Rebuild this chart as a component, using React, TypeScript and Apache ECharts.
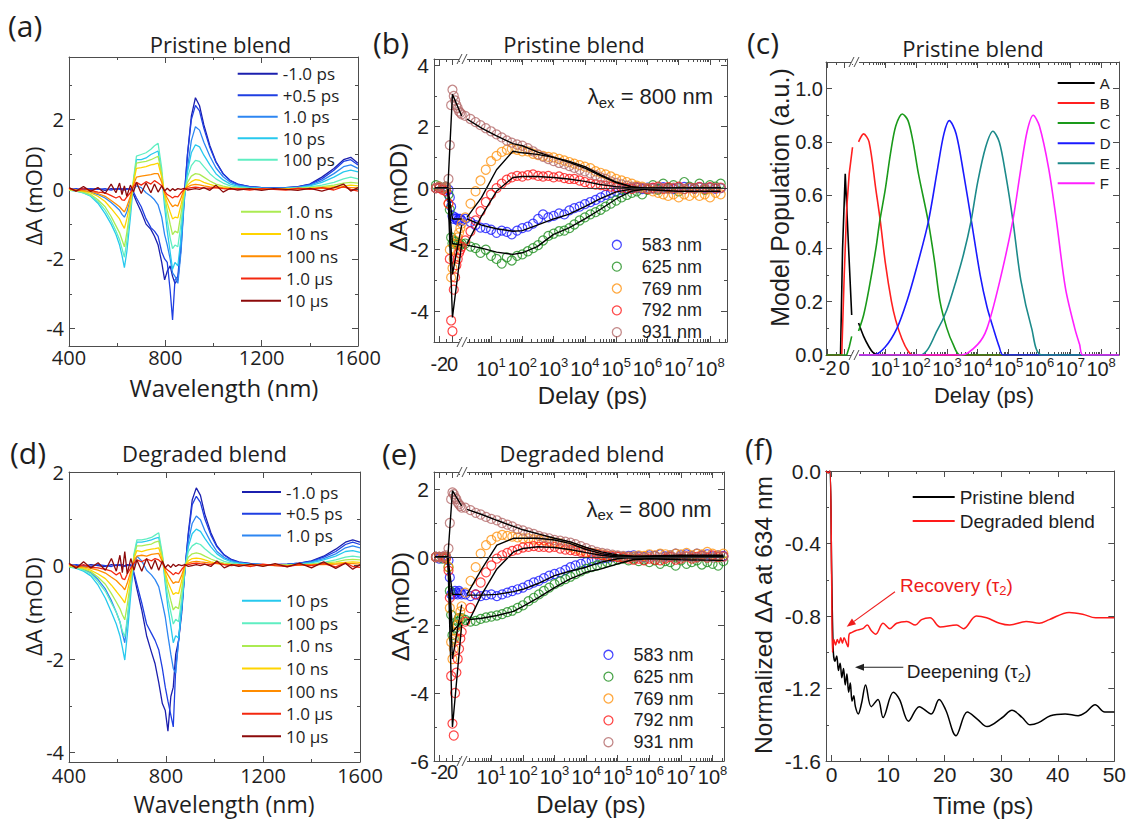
import { useEffect, useRef } from 'react';
import * as echarts from 'echarts';

const MY = "'Open Sans', 'Noto Sans', sans-serif";
const AR = "'Liberation Sans', Arial, sans-serif";
const AX = '#4d4d4d';
const TXT = '#1e1e1e';

// ---------------- (a)/(d) transient spectra ----------------
const WL = [400, 430, 460, 490, 520, 550, 575, 595, 610, 620,
  630, 640, 655, 668, 680, 700, 720, 740, 755, 770,
  785, 797, 808, 820, 830, 840, 852, 865, 878, 892,
  908, 925, 942, 960, 985, 1010, 1040, 1070, 1100, 1150,
  1200, 1250, 1300, 1350, 1400, 1450, 1500, 1540, 1570, 1600];
const SPEC_LABELS = ['-1.0 ps', '+0.5 ps', '1.0 ps', '10 ps', '100 ps', '1.0 ns', '10 ns', '100 ns', '1.0 µs', '10 µs'];
const WL_TICKS = [400, 800, 1200, 1600];
const WL_MINOR = [600, 1000, 1400];

const A_M1 = [0.02, -0.02, 0.03, 0.0, 0.02, -0.03, 0.02, 0.0, 0.03, -0.02,
  0.0, 0.02, 0.0, -0.15, -0.35, -0.65, -1.0, -1.15, -1.35, -1.6,
  -2.1, -2.6, -2.35, -2.2, -2.5, -2.7, -2.6, -1.7, -0.3, 1.0,
  2.1, 2.63, 2.4, 1.85, 1.25, 0.8, 0.45, 0.25, 0.15, 0.08,
  0.05, 0.04, 0.05, 0.08, 0.15, 0.35, 0.6, 0.85, 0.92, 0.75];
const A_P05 = [0.0, 0.02, -0.02, 0.02, 0.0, 0.02, -0.02, 0.02, 0.0, 0.02,
  -0.02, 0.0, 0.02, -0.08, -0.25, -0.5, -0.85, -1.1, -1.2, -1.35,
  -1.8, -2.0, -2.1, -2.9, -3.75, -2.6, -2.5, -1.5, -0.2, 1.0,
  2.0, 2.41, 2.25, 1.75, 1.2, 0.78, 0.44, 0.25, 0.15, 0.08,
  0.05, 0.04, 0.05, 0.07, 0.14, 0.3, 0.55, 0.8, 0.85, 0.7];
const A_1PS = [-0.02, -0.03, -0.05, -0.08, -0.15, -0.25, -0.38, -0.5, -0.6, -0.72,
  -0.8, -0.65, -0.3, 0.0, 0.1, 0.05, -0.1, -0.2, -0.3, -0.45,
  -0.8, -1.3, -1.6, -2.0, -2.4, -2.5, -2.7, -1.8, -0.4, 0.6,
  1.4, 1.8, 1.7, 1.35, 0.95, 0.62, 0.36, 0.2, 0.12, 0.06,
  0.04, 0.03, 0.04, 0.06, 0.12, 0.25, 0.45, 0.65, 0.7, 0.6];
const A_10PS = [-0.02, -0.05, -0.1, -0.2, -0.4, -0.7, -1.0, -1.3, -1.6, -1.9,
  -2.25, -1.8, -0.8, 0.2, 0.85, 0.85, 0.9, 1.0, 1.05, 1.1,
  0.4, -0.5, -1.2, -1.8, -2.3, -2.1, -2.2, -1.4, -0.3, 0.5,
  1.05, 1.28, 1.22, 0.98, 0.7, 0.45, 0.27, 0.15, 0.09, 0.05,
  0.03, 0.02, 0.03, 0.05, 0.1, 0.2, 0.35, 0.5, 0.55, 0.5];
const A_100PS = [-0.02, -0.05, -0.1, -0.18, -0.35, -0.6, -0.9, -1.2, -1.45, -1.7,
  -1.95, -1.5, -0.6, 0.3, 0.95, 1.0, 1.05, 1.15, 1.25, 1.32,
  0.6, -0.3, -0.9, -1.4, -1.7, -1.6, -1.65, -1.0, -0.2, 0.35,
  0.68, 0.83, 0.8, 0.65, 0.45, 0.3, 0.18, 0.1, 0.06, 0.03,
  0.02, 0.02, 0.02, 0.04, 0.07, 0.12, 0.2, 0.3, 0.35, 0.3];
const A_1NS = [-0.02, -0.04, -0.08, -0.15, -0.3, -0.5, -0.78, -1.05, -1.25, -1.45,
  -1.65, -1.25, -0.5, 0.25, 0.75, 0.78, 0.8, 0.85, 0.9, 0.95,
  0.45, -0.2, -0.6, -1.0, -1.3, -1.2, -1.25, -0.7, -0.1, 0.2,
  0.38, 0.45, 0.43, 0.35, 0.24, 0.15, 0.09, 0.05, 0.03, 0.02,
  0.01, 0.02, 0.01, 0.03, 0.05, 0.08, 0.12, 0.18, 0.2, 0.18];
const A_10NS = [0.0, -0.03, -0.05, -0.1, -0.2, -0.35, -0.55, -0.72, -0.85, -1.0,
  -1.12, -0.85, -0.35, 0.2, 0.6, 0.62, 0.65, 0.7, 0.72, 0.75,
  0.35, -0.15, -0.4, -0.65, -0.85, -0.8, -0.82, -0.45, -0.05, 0.12,
  0.22, 0.28, 0.26, 0.2, 0.14, 0.09, 0.05, 0.03, 0.02, 0.01,
  0.02, 0.0, 0.02, 0.01, 0.03, 0.05, 0.08, 0.1, 0.12, 0.1];
const A_100NS = [0.02, -0.02, -0.04, -0.06, -0.12, -0.2, -0.32, -0.42, -0.5, -0.58,
  -0.65, -0.5, -0.2, 0.12, 0.35, 0.38, 0.4, 0.42, 0.45, 0.45,
  0.2, -0.1, -0.25, -0.4, -0.5, -0.45, -0.48, -0.25, 0.0, 0.07,
  0.12, 0.14, 0.13, 0.1, 0.07, 0.05, 0.03, 0.02, 0.01, 0.02,
  0.0, 0.02, 0.0, 0.02, 0.01, 0.03, 0.04, 0.06, 0.05, 0.04];
const A_1US = [0.03, -0.05, 0.02, -0.03, -0.08, -0.1, -0.18, -0.25, -0.2, -0.3,
  -0.32, -0.22, -0.1, 0.08, 0.2, 0.12, 0.22, 0.15, 0.25, 0.18,
  0.1, -0.05, -0.15, -0.2, -0.25, -0.2, -0.22, -0.1, 0.0, 0.03,
  0.05, 0.06, 0.05, 0.04, 0.03, 0.05, 0.02, 0.0, 0.02, -0.02,
  0.02, 0.0, -0.02, 0.03, 0.0, 0.05, -0.02, 0.08, 0.0, -0.05];
const A_10US = [0.05, -0.05, 0.08, -0.06, 0.05, -0.12, 0.15, -0.1, 0.18, -0.15,
  0.1, -0.2, 0.12, -0.08, 0.2, -0.12, 0.18, -0.1, 0.15, -0.08,
  0.1, -0.05, 0.03, -0.05, 0.02, -0.03, 0.02, 0.0, 0.03, -0.02,
  0.0, 0.02, 0.0, 0.05, -0.03, 0.12, -0.08, 0.03, -0.02, 0.02,
  -0.03, 0.02, 0.0, -0.03, 0.03, -0.05, 0.05, 0.15, -0.05, 0.05];

const D_M1 = [0.02, 0.0, -0.02, 0.02, 0.0, -0.02, 0.02, 0.0, 0.02, -0.02,
  0.0, 0.02, 0.0, -0.2, -0.5, -0.95, -1.5, -1.85, -2.1, -2.5,
  -2.95, -3.1, -3.54, -2.8, -2.6, -1.9, -1.6, -1.0, -0.1, 0.7,
  1.4, 1.66, 1.5, 1.1, 0.7, 0.42, 0.23, 0.13, 0.08, 0.04,
  0.02, 0.02, 0.03, 0.05, 0.1, 0.2, 0.35, 0.5, 0.55, 0.5];
const D_P05 = [0.0, 0.02, 0.0, -0.02, 0.02, 0.0, -0.02, 0.02, 0.0, 0.02,
  -0.02, 0.0, 0.02, -0.15, -0.4, -0.8, -1.25, -1.45, -1.6, -1.8,
  -2.2, -2.6, -2.9, -3.2, -3.45, -2.2, -1.6, -0.9, -0.1, 0.65,
  1.3, 1.48, 1.35, 1.0, 0.65, 0.4, 0.22, 0.12, 0.07, 0.04,
  0.02, 0.02, 0.03, 0.05, 0.09, 0.18, 0.3, 0.45, 0.5, 0.45];
const D_1PS = [-0.02, -0.04, -0.08, -0.15, -0.3, -0.5, -0.75, -1.0, -1.2, -1.45,
  -1.65, -1.2, -0.45, 0.0, 0.2, 0.1, -0.1, -0.2, -0.3, -0.45,
  -0.8, -1.1, -1.5, -1.9, -2.2, -2.3, -1.6, -0.8, -0.05, 0.5,
  0.9, 1.06, 0.98, 0.75, 0.5, 0.3, 0.17, 0.1, 0.06, 0.03,
  0.02, 0.02, 0.02, 0.04, 0.08, 0.15, 0.25, 0.38, 0.42, 0.38];
const D_10PS = [-0.03, -0.06, -0.12, -0.22, -0.42, -0.7, -1.0, -1.25, -1.5, -1.75,
  -2.02, -1.5, -0.6, 0.2, 0.5, 0.5, 0.52, 0.55, 0.58, 0.6,
  0.2, -0.4, -0.9, -1.3, -1.65, -1.5, -1.55, -0.9, -0.1, 0.4,
  0.68, 0.78, 0.73, 0.58, 0.4, 0.25, 0.14, 0.08, 0.05, 0.03,
  0.02, 0.01, 0.02, 0.03, 0.06, 0.12, 0.2, 0.3, 0.32, 0.28];
const D_100PS = [-0.02, -0.05, -0.1, -0.18, -0.35, -0.55, -0.8, -1.0, -1.2, -1.4,
  -1.52, -1.15, -0.45, 0.25, 0.55, 0.55, 0.57, 0.6, 0.65, 0.7,
  0.25, -0.3, -0.7, -1.0, -1.25, -1.15, -1.2, -0.7, -0.05, 0.3,
  0.42, 0.48, 0.45, 0.36, 0.25, 0.16, 0.09, 0.05, 0.03, 0.02,
  0.01, 0.01, 0.02, 0.02, 0.04, 0.07, 0.12, 0.18, 0.2, 0.18];
const D_1NS = [-0.02, -0.04, -0.07, -0.13, -0.25, -0.4, -0.6, -0.78, -0.92, -1.05,
  -1.16, -0.85, -0.3, 0.2, 0.42, 0.42, 0.44, 0.46, 0.5, 0.52,
  0.18, -0.2, -0.5, -0.75, -0.95, -0.88, -0.92, -0.5, -0.02, 0.18,
  0.25, 0.27, 0.25, 0.2, 0.14, 0.09, 0.05, 0.03, 0.02, 0.01,
  0.01, 0.0, 0.01, 0.02, 0.03, 0.05, 0.08, 0.12, 0.13, 0.12];
const D_10NS = [0.0, -0.03, -0.05, -0.1, -0.18, -0.28, -0.42, -0.55, -0.65, -0.72,
  -0.8, -0.58, -0.2, 0.15, 0.32, 0.3, 0.33, 0.35, 0.36, 0.38,
  0.12, -0.15, -0.35, -0.5, -0.62, -0.58, -0.6, -0.32, 0.0, 0.1,
  0.15, 0.16, 0.15, 0.12, 0.08, 0.05, 0.03, 0.02, 0.01, 0.02,
  0.0, 0.01, 0.0, 0.02, 0.02, 0.03, 0.05, 0.07, 0.08, 0.07];
const D_100NS = [0.02, -0.02, -0.03, -0.06, -0.1, -0.16, -0.25, -0.32, -0.4, -0.45,
  -0.52, -0.38, -0.12, 0.1, 0.2, 0.22, 0.2, 0.24, 0.25, 0.26,
  0.08, -0.1, -0.2, -0.3, -0.38, -0.35, -0.36, -0.2, 0.0, 0.05,
  0.08, 0.09, 0.08, 0.07, 0.05, 0.04, 0.02, 0.02, 0.01, 0.02,
  0.0, 0.02, 0.0, 0.01, 0.02, 0.02, 0.03, 0.04, 0.04, 0.03];
const D_1US = [0.03, -0.04, 0.02, -0.04, -0.05, -0.08, -0.12, -0.2, -0.15, -0.28,
  -0.3, -0.18, -0.05, 0.05, 0.12, 0.08, 0.14, 0.1, 0.15, 0.12,
  0.05, -0.05, -0.1, -0.15, -0.2, -0.15, -0.18, -0.08, 0.0, 0.02,
  0.04, 0.05, 0.04, 0.03, 0.02, 0.06, 0.02, 0.0, 0.02, -0.02,
  0.03, 0.0, -0.02, 0.02, 0.0, 0.04, -0.03, 0.06, -0.02, -0.04];
const D_10US = [0.05, -0.06, 0.08, -0.05, 0.06, -0.1, 0.15, -0.12, 0.22, -0.15,
  0.3, -0.18, 0.15, -0.1, 0.12, -0.12, 0.15, -0.08, 0.12, -0.1,
  0.1, -0.05, 0.02, -0.04, 0.03, -0.02, 0.02, 0.0, 0.02, -0.02,
  0.0, 0.02, 0.0, 0.03, -0.02, 0.1, -0.05, 0.02, -0.02, 0.03,
  -0.02, 0.04, -0.03, 0.05, -0.05, 0.08, -0.06, 0.05, -0.08, 0.02];

const A_SPECTRA = [A_M1, A_P05, A_1PS, A_10PS, A_100PS, A_1NS, A_10NS, A_100NS, A_1US, A_10US];
const D_SPECTRA = [D_M1, D_P05, D_1PS, D_10PS, D_100PS, D_1NS, D_10NS, D_100NS, D_1US, D_10US];
const SPEC_COLORS = ['#1b1fae', '#1f3fe2', '#2d86f2', '#27c9ee', '#5feec2', '#abeb52', '#ffd400', '#ff8c00', '#f3280f', '#8c0a0a'];

// ---------------- (b)/(e) kinetics ----------------
const KIN_LABELS = ['583 nm', '625 nm', '769 nm', '792 nm', '931 nm'];
const KIN_COLORS = ['#1a1aff', '#1f8f1f', '#ff9412', '#ff1a1a', '#b46a6a'];
const LIN_TICKS = [-2, 0];
const LIN_MINOR = [-1, 1];
const LOG_MAJ = [1e1, 1e2, 1e3, 1e4, 1e5, 1e6, 1e7, 1e8];
const LIN_T = [-2.5, -2.0, -1.5, -1.0, -0.6, -0.4, -0.2, 0.0, 0.2, 0.4, 0.6, 0.8, 1.0, 1.2, 1.4];
const T_LOG = [1.5, 2.2, 3.2, 4.6, 6.8, 10, 15, 22, 32, 46,
  68, 100, 150, 220, 320, 460, 680, 1e3, 1.5e3, 2.2e3,
  3.2e3, 4.6e3, 6.8e3, 1e4, 1.5e4, 2.2e4, 3.2e4, 4.6e4, 6.8e4, 1e5,
  1.5e5, 2.2e5, 3.2e5, 4.6e5, 6.8e5, 1e6, 1.5e6, 2.2e6, 3.2e6, 4.6e6,
  6.8e6, 1e7, 1.5e7, 2.2e7, 3.2e7, 4.6e7, 6.8e7, 1e8, 1.5e8, 2.2e8];
const FITL_T = [-2.6, -0.7, 0.0, 1.4];
const FIT_T = [1.7, 5, 15, 50, 100, 300, 1000, 3000, 10000, 30000, 1e5, 3e5, 1e6, 1e7, 2.2e8];

const B583L = [0.0, 0.02, 0.0, 0.0, -0.05, -0.3, -0.6, -0.9, -1.0, -0.95, -1.0, -1.05, -1.0, -1.0, -1.05];
const B625L = [0.1, 0.05, 0.0, 0.05, -0.2, -0.7, -1.6, -1.8, -1.7, -1.75, -1.8, -1.85, -1.8, -1.85, -1.8];
const B769L = [0.0, 0.05, 0.0, 0.0, -0.5, -2.0, -2.9, -2.6, -2.3, -2.0, -1.8, -1.6, -1.45, -1.3, -1.15];
const B792L = [0.0, 0.0, -0.05, -0.1, -0.5, -2.3, -4.3, -4.65, -3.3, -2.9, -2.5, -2.3, -2.1, -2.0, -1.9];
const B931L = [0.0, 0.05, 0.0, 0.05, 0.3, 1.4, 2.7, 3.2, 3.0, 2.85, 2.7, 2.6, 2.5, 2.45, 2.4];
const B583 = [-1.0, -1.1, -1.2, -1.28, -1.3, -1.35, -1.45, -1.38, -1.42, -1.5,
  -1.38, -1.3, -1.25, -1.15, -1.0, -0.85, -0.95, -0.9, -0.82, -0.85,
  -0.72, -0.65, -0.6, -0.52, -0.45, -0.38, -0.3, -0.22, -0.15, -0.1,
  -0.05, -0.02, 0.0, 0.02, -0.03, 0.02, 0.0, -0.02, 0.03, 0.0,
  -0.03, 0.02, 0.04, 0.0, -0.02, 0.03, 0.0, 0.02, -0.02, 0.0];
const B625 = [-1.8, -1.9, -1.95, -2.1, -2.0, -2.2, -2.3, -2.45, -2.25, -2.35,
  -2.2, -2.15, -2.05, -1.95, -1.85, -1.7, -1.55, -1.48, -1.4, -1.38,
  -1.3, -1.18, -1.05, -0.95, -0.85, -0.78, -0.7, -0.6, -0.5, -0.4,
  -0.3, -0.22, -0.15, -0.1, -0.2, -0.05, 0.1, -0.05, 0.15, 0.0,
  0.1, -0.1, 0.2, 0.05, 0.0, 0.15, -0.05, 0.1, 0.05, 0.15];
const B769 = [-0.95, -0.5, -0.1, 0.25, 0.6, 0.88, 1.05, 1.18, 1.25, 1.28,
  1.25, 1.2, 1.2, 1.12, 1.08, 1.05, 1.02, 1.0, 0.95, 0.9,
  0.85, 0.8, 0.75, 0.7, 0.65, 0.55, 0.5, 0.45, 0.38, 0.3,
  0.25, 0.2, 0.15, 0.08, 0.05, 0.0, -0.1, -0.15, -0.2, -0.25,
  -0.2, -0.3, -0.2, -0.25, -0.15, -0.25, -0.2, -0.3, -0.15, -0.2];
const B792 = [-1.7, -1.4, -1.05, -0.75, -0.45, -0.2, 0.0, 0.15, 0.28, 0.35,
  0.4, 0.38, 0.42, 0.45, 0.4, 0.38, 0.4, 0.35, 0.38, 0.33,
  0.3, 0.3, 0.25, 0.2, 0.15, 0.12, 0.1, 0.08, 0.05, 0.03,
  0.02, 0.0, -0.02, 0.03, 0.0, -0.03, 0.02, 0.05, -0.02, 0.03,
  0.0, 0.05, -0.03, 0.02, 0.0, 0.04, -0.02, 0.03, 0.0, 0.02];
const B931 = [2.35, 2.25, 2.15, 2.05, 1.95, 1.85, 1.75, 1.65, 1.55, 1.48,
  1.42, 1.38, 1.3, 1.2, 1.1, 1.02, 0.95, 0.88, 0.82, 0.78,
  0.72, 0.66, 0.6, 0.55, 0.48, 0.42, 0.35, 0.3, 0.22, 0.17,
  0.12, 0.08, 0.05, 0.03, 0.01, 0.0, -0.02, 0.02, 0.0, -0.03,
  0.02, 0.0, -0.02, 0.01, 0.0, 0.02, -0.01, 0.0, 0.02, 0.0];
const B_FITL = [[0, 0, -1.0, -1.0], [0, 0, -1.8, -1.85], [0, 0, -2.8, -1.2], [0, 0, -4.2, -1.8], [0, 0, 3.05, 2.35]];
const B583F = [-1.0, -1.2, -1.32, -1.4, -1.38, -1.2, -1.0, -0.85, -0.6, -0.35, -0.12, -0.03, 0, 0, 0];
const B625F = [-1.85, -1.95, -2.08, -2.15, -2.1, -1.9, -1.5, -1.3, -1.0, -0.7, -0.35, -0.1, -0.02, 0, 0];
const B769F = [-0.95, -0.3, 0.6, 1.2, 1.15, 1.1, 1.0, 0.88, 0.7, 0.45, 0.2, 0.05, -0.05, -0.1, -0.1];
const B792F = [-1.8, -0.9, -0.1, 0.35, 0.38, 0.38, 0.35, 0.3, 0.22, 0.12, 0.05, 0.01, 0, 0, 0];
const B931F = [2.25, 1.95, 1.7, 1.45, 1.38, 1.18, 1.0, 0.85, 0.65, 0.42, 0.18, 0.05, 0, 0, 0];

const E583L = [0.0, -0.05, 0.0, 0.0, -0.1, -0.6, -1.1, -1.05, -1.1, -1.0, -1.05, -1.1, -1.0, -1.05, -1.1];
const E625L = [0.0, 0.0, -0.05, 0.0, -0.3, -1.0, -1.7, -2.3, -2.4, -2.1, -2.0, -1.9, -1.8, -1.85, -1.8];
const E769L = [0.0, 0.0, 0.0, 0.0, -0.3, -1.5, -2.5, -3.0, -2.7, -2.4, -2.2, -2.0, -1.8, -1.6, -1.45];
const E792L = [0.0, 0.0, 0.0, -0.05, -0.4, -1.2, -3.5, -4.9, -5.25, -4.0, -3.4, -3.0, -2.7, -2.4, -2.2];
const E931L = [0.0, 0.0, 0.0, 0.05, 0.25, 1.0, 1.7, 1.9, 1.85, 1.75, 1.7, 1.6, 1.55, 1.5, 1.45];
const E583 = [-1.1, -1.15, -1.1, -1.15, -1.12, -1.1, -1.15, -1.1, -1.05, -1.0,
  -0.95, -0.9, -0.82, -0.75, -0.7, -0.62, -0.55, -0.5, -0.45, -0.38,
  -0.3, -0.25, -0.2, -0.15, -0.1, -0.08, -0.05, -0.03, 0.0, 0.02,
  0.0, 0.03, 0.05, 0.02, 0.0, 0.05, 0.03, 0.08, 0.02, 0.05,
  0.1, 0.05, 0.08, 0.03, 0.1, 0.05, 0.08, 0.02, 0.05, 0.03];
const E625 = [-1.85, -1.9, -1.88, -1.82, -1.78, -1.75, -1.72, -1.68, -1.62, -1.58,
  -1.5, -1.42, -1.3, -1.2, -1.1, -1.0, -0.9, -0.8, -0.72, -0.65,
  -0.58, -0.5, -0.42, -0.35, -0.3, -0.25, -0.2, -0.15, -0.12, -0.08,
  -0.05, -0.1, -0.05, -0.12, -0.08, -0.15, -0.1, -0.2, -0.12, -0.15,
  -0.25, -0.1, -0.2, -0.15, -0.1, -0.22, -0.15, -0.2, -0.25, -0.12];
const E769 = [-1.05, -0.7, -0.3, 0.1, 0.35, 0.5, 0.6, 0.65, 0.62, 0.6,
  0.58, 0.55, 0.55, 0.52, 0.5, 0.5, 0.45, 0.42, 0.4, 0.35,
  0.3, 0.25, 0.2, 0.15, 0.12, 0.1, 0.08, 0.05, 0.03, 0.02,
  0.0, 0.0, 0.02, 0.05, 0.03, 0.08, 0.05, 0.1, 0.08, 0.05,
  0.1, 0.08, 0.12, 0.05, 0.1, 0.08, 0.15, 0.1, 0.05, 0.1];
const E792 = [-1.9, -1.5, -1.1, -0.75, -0.45, -0.25, -0.05, 0.05, 0.12, 0.18,
  0.22, 0.28, 0.3, 0.32, 0.3, 0.3, 0.28, 0.3, 0.25, 0.22,
  0.2, 0.18, 0.15, 0.12, 0.1, 0.08, 0.05, 0.03, 0.02, 0.0,
  -0.02, -0.05, -0.08, -0.05, -0.1, -0.05, -0.08, -0.1, -0.05, 0.0,
  -0.08, -0.05, 0.02, -0.05, 0.0, 0.03, -0.02, 0.05, 0.0, 0.02];
const E931 = [1.45, 1.38, 1.3, 1.25, 1.18, 1.12, 1.08, 1.0, 0.95, 0.9,
  0.82, 0.78, 0.72, 0.68, 0.62, 0.58, 0.55, 0.5, 0.48, 0.45,
  0.42, 0.38, 0.32, 0.26, 0.2, 0.15, 0.12, 0.1, 0.07, 0.05,
  0.03, 0.02, 0.0, 0.02, -0.02, 0.0, 0.03, -0.02, 0.0, 0.02,
  -0.03, 0.0, 0.02, 0.0, -0.02, 0.03, 0.0, -0.02, 0.02, 0.0];
const E_FITL = [[0, 0, -1.1, -1.1], [0, 0, -2.2, -1.9], [0, 0, -3.0, -1.4], [0, 0, -5.0, -2.0], [0, 0, 1.95, 1.5]];
const E583F = [-1.12, -1.12, -1.1, -1.02, -0.95, -0.78, -0.55, -0.42, -0.3, -0.15, -0.05, 0, 0.02, 0.03, 0.03];
const E625F = [-1.85, -1.8, -1.72, -1.6, -1.45, -1.2, -0.9, -0.65, -0.45, -0.35, -0.2, -0.08, -0.05, -0.08, -0.1];
const E769F = [-1.1, -0.35, 0.35, 0.55, 0.55, 0.55, 0.5, 0.4, 0.22, 0.1, 0.03, 0.02, 0.03, 0.05, 0.05];
const E792F = [-2.0, -1.1, -0.35, 0.15, 0.25, 0.3, 0.28, 0.22, 0.13, 0.05, 0.0, -0.03, -0.03, -0.02, 0];
const E931F = [1.4, 1.25, 1.08, 0.9, 0.8, 0.68, 0.55, 0.45, 0.28, 0.15, 0.06, 0.02, 0, 0, 0];

// ---------------- (c) model populations ----------------
const POP_LABELS = ['A', 'B', 'C', 'D', 'E', 'F'];
const POP_COLORS = ['#000000', '#ff2020', '#1a9a1a', '#1a1aff', '#1c8a8a', '#ff20ff'];
const C_A_LT = [-2.2, -0.45, -0.2, 0.12, 0.5, 0.9];
const C_A_LV = [0, 0, 0.4, 0.68, 0.42, 0.15];
const C_B_LT = [-2.2, -0.3, 0.0, 0.3, 0.6, 1.0];
const C_B_LV = [0, 0, 0.3, 0.55, 0.68, 0.78];
const C_C_LT = [-2.2, 0.3, 0.6, 0.9];
const C_C_LV = [0, 0, 0.03, 0.07];
const C_A_T = [1.37, 2, 3, 4, 6, 3.8e8];
const C_A_V = [0.12, 0.07, 0.03, 0.01, 0, 0];
const C_B_T = [1.37, 2, 3, 5, 7, 10, 16, 22, 35, 55, 80, 3.8e8];
const C_B_V = [0.8, 0.83, 0.8, 0.62, 0.5, 0.35, 0.2, 0.13, 0.06, 0.015, 0, 0];
const C_C_T = [1.37, 2, 3, 5, 6.6, 10, 15, 22, 36, 55, 80, 120, 250, 400, 600, 1000, 1600, 2700, 3.8e8];
const C_C_V = [0.09, 0.15, 0.25, 0.4, 0.5, 0.62, 0.76, 0.86, 0.905, 0.88, 0.8, 0.68, 0.5, 0.35, 0.2, 0.1, 0.04, 0, 0];
const C_D_T = [1.05, 4.2, 10, 24, 50, 100, 250, 500, 800, 1200, 2000, 3500, 6300, 12000, 20000, 32000, 50000, 67000, 3.8e8];
const C_D_V = [0, 0, 0.03, 0.1, 0.2, 0.32, 0.5, 0.7, 0.83, 0.88, 0.83, 0.68, 0.5, 0.3, 0.18, 0.1, 0.03, 0, 0];
const C_E_T = [1.05, 135, 525, 1000, 2000, 3500, 6000, 10000, 18000, 31000, 50000, 80000, 140000, 250000, 560000, 1.2e6, 3.8e8];
const C_E_V = [0, 0, 0.1, 0.17, 0.28, 0.38, 0.5, 0.65, 0.78, 0.84, 0.8, 0.68, 0.5, 0.28, 0.1, 0, 0];
const C_F_T = [1.05, 3000, 10000, 20000, 50000, 135000, 250000, 400000, 630000, 1e6, 2e6, 3.6e6, 7e6, 1.4e7, 2e7, 2.6e7, 3.8e8];
const C_F_V = [0, 0, 0.04, 0.1, 0.27, 0.5, 0.7, 0.84, 0.9, 0.86, 0.7, 0.5, 0.25, 0.1, 0.04, 0, 0];

// ---------------- (f) normalized 634 nm ----------------
const F_LABELS = ['Pristine blend', 'Degraded blend'];
const F_P_T = [-1, -0.6, -0.3, 0.0, 0.3, 0.6, 0.9, 1.2, 1.5, 1.8, 2.1, 2.4, 2.7, 3.0, 3.3, 3.6, 3.9, 4.2, 4.7, 5.3, 6.0, 7.0, 8.2, 9.1, 10.9, 12.0, 13.6, 15.5, 17.6, 19.0, 20.2, 22.0, 24.0, 25.8, 27.5, 30.2, 31.9, 33.7, 35.1, 36.5, 38.7, 41.3, 43.6, 45.0, 46.6, 48.3, 50];
const F_P_V = [0.0, -0.01, 0.0, -0.55, -1.0, -1.05, -1.02, -1.1, -1.06, -1.14, -1.09, -1.18, -1.12, -1.22, -1.17, -1.27, -1.24, -1.30, -1.34, -1.28, -1.18, -1.30, -1.26, -1.36, -1.22, -1.26, -1.38, -1.30, -1.34, -1.26, -1.32, -1.46, -1.33, -1.37, -1.41, -1.36, -1.32, -1.36, -1.40, -1.39, -1.35, -1.34, -1.35, -1.33, -1.29, -1.33, -1.33];
const F_D_T = [-1, -0.6, -0.3, 0.0, 0.15, 0.4, 0.7, 1.0, 1.3, 1.6, 1.9, 2.2, 2.5, 2.9, 3.1, 3.6, 4.3, 5.5, 6.3, 7.0, 7.8, 9.1, 10.3, 11.5, 13.3, 14.8, 15.9, 17.4, 19.2, 22.1, 23.3, 25.6, 27.4, 29.7, 31.5, 34.4, 36.7, 38.5, 42.0, 44.4, 46.7, 50];
const F_D_V = [0.0, -0.01, 0.0, -0.6, -1.0, -0.93, -0.96, -0.93, -0.95, -0.92, -0.95, -0.92, -0.94, -0.97, -0.9, -0.89, -0.88, -0.87, -0.85, -0.88, -0.9, -0.84, -0.87, -0.84, -0.83, -0.85, -0.82, -0.81, -0.86, -0.85, -0.87, -0.8, -0.81, -0.84, -0.85, -0.83, -0.84, -0.82, -0.78, -0.79, -0.81, -0.81];
const F_X_TICKS = [0, 10, 20, 30, 40, 50];
const F_X_MINOR = [5, 15, 25, 35, 45];
const F_Y_TICKS = [-1.6, -1.2, -0.8, -0.4, 0];
const F_Y_MINOR = [-1.4, -1.0, -0.6, -0.2];

const A_Y_TICKS = [-4, -2, 0, 2];
const A_Y_MINOR = [-3, -1, 1, 3];
const B_Y_TICKS = [-4, -2, 0, 2, 4];
const B_Y_MINOR = [-5, -3, -1, 1, 3];
const C_Y_TICKS = [0, 0.2, 0.4, 0.6, 0.8, 1.0];
const C_Y_MINOR = [0.1, 0.3, 0.5, 0.7, 0.9];
const D_Y_TICKS = [-4, -2, 0, 2];
const D_Y_MINOR = [-3, -1, 1];
const E_Y_TICKS = [-6, -4, -2, 0, 2];
const E_Y_MINOR = [-5, -3, -1, 1];

function logMinors(min: number, max: number) {
  const out: number[] = [];
  for (let e = 0; e <= 8; e++) {
    for (let m = 2; m <= 9; m++) {
      const v = m * Math.pow(10, e);
      if (v > min && v < max) out.push(v);
    }
  }
  return out;
}

function buildOption() {
  const grid: any[] = [];
  const xAxis: any[] = [];
  const yAxis: any[] = [];
  const series: any[] = [];
  const legend: any[] = [];
  const gfx: any[] = [];

  const addGrid = (left: number, top: number, width: number, height: number) => {
    grid.push({ left, top, width, height, containLabel: false, show: false });
    return grid.length - 1;
  };
  const mkAxis = (dim: string, gi: number, type: string, min: number, max: number, position: string,
    ticks: number[], len: number, line: boolean, label?: any) => {
    const ax: any = {
      gridIndex: gi, type, min, max, position,
      axisLine: { show: line, onZero: false, lineStyle: { color: AX, width: 1 } },
      axisTick: ticks.length
        ? { show: true, inside: true, length: len, customValues: ticks, lineStyle: { color: AX, width: 1 } }
        : { show: false },
      axisLabel: label ? { show: true, showMinLabel: true, showMaxLabel: true, ...label } : { show: false },
      splitLine: { show: false },
      axisPointer: { show: false },
      silent: true,
    };
    if (type === 'log') ax.logBase = 10;
    const arr = dim === 'x' ? xAxis : yAxis;
    arr.push(ax);
    return arr.length - 1;
  };
  const frameX = (gi: number, type: string, min: number, max: number, maj: number[], minr: number[], label: any, label2?: any) => {
    const i = mkAxis('x', gi, type, min, max, 'bottom', maj, 6, true, label);
    mkAxis('x', gi, type, min, max, 'bottom', minr, 3, false, label2);
    mkAxis('x', gi, type, min, max, 'top', maj, 6, true);
    mkAxis('x', gi, type, min, max, 'top', minr, 3, false);
    return i;
  };
  const frameY = (gi: number, min: number, max: number, maj: number[], minr: number[], label: any, left: boolean, right: boolean) => {
    let main = -1;
    if (left) {
      main = mkAxis('y', gi, 'value', min, max, 'left', maj, 6, true, label);
      mkAxis('y', gi, 'value', min, max, 'left', minr, 3, false);
    }
    if (right) {
      const r = mkAxis('y', gi, 'value', min, max, 'right', maj, 6, true);
      mkAxis('y', gi, 'value', min, max, 'right', minr, 3, false);
      if (main < 0) main = r;
    }
    return main;
  };
  const plain = (v: number) => String(v);
  const lab = (font: string, size: number, margin: number, values: number[], extra: any = {}) => ({
    fontFamily: font, fontSize: size, color: TXT, margin, lineHeight: size, customValues: values, formatter: plain, ...extra,
  });
  const ylab = (font: string, size: number, margin: number, values: number[], extra: any = {}) =>
    lab(font, size, margin, values, { lineHeight: 14, ...extra });
  const logLab = (margin: number) => ({
    fontFamily: AR, fontSize: 20, color: TXT, margin, lineHeight: 26, customValues: LOG_MAJ,
    formatter: (v: number) => '10{s|' + Math.round(Math.log10(v)) + '}',
    rich: { s: { fontFamily: AR, fontSize: 13, lineHeight: 13, verticalAlign: 'top', color: TXT } },
  });
  const fix1 = (v: number) => v.toFixed(1);

  const lineS = (name: string, xi: number, yi: number, data: any[], color: string, width: number, extra: any = {}) => ({
    type: 'line', name, xAxisIndex: xi, yAxisIndex: yi, data, symbol: 'none', showSymbol: false,
    lineStyle: { color, width }, itemStyle: { color }, silent: true, animation: false, ...extra,
  });
  const scatS = (name: string, xi: number, yi: number, data: any[], color: string, extra: any = {}) => ({
    type: 'scatter', name, xAxisIndex: xi, yAxisIndex: yi, data, symbol: 'circle', symbolSize: 9,
    itemStyle: { color: 'rgba(0,0,0,0)', borderColor: color, borderWidth: 1.2 }, silent: true, animation: false, ...extra,
  });
  const zeroLine = {
    silent: true, symbol: ['none', 'none'], label: { show: false }, animation: false,
    lineStyle: { color: '#333', width: 1, type: 'solid' }, data: [{ yAxis: 0 }],
  };
  const zip = (xs: number[], ys: number[]) => xs.map((x, i) => [x, ys[i]]);

  // ---- (a)
  const gA = addGrid(69, 57, 289, 289);
  const xA = frameX(gA, 'value', 400, 1600, WL_TICKS, WL_MINOR, lab(MY, 20, 1, WL_TICKS));
  const yA = frameY(gA, -4.5, 3.8, A_Y_TICKS, A_Y_MINOR, ylab(MY, 20, 5, A_Y_TICKS), true, true);
  A_SPECTRA.forEach((arr, k) => series.push(lineS(SPEC_LABELS[k], xA, yA, zip(WL, arr), SPEC_COLORS[k], 1.3)));

  // ---- (d)
  const gD = addGrid(69, 472, 291, 290);
  const xD = frameX(gD, 'value', 400, 1600, WL_TICKS, WL_MINOR, lab(MY, 20, 3, WL_TICKS));
  const yD = frameY(gD, -4.2, 2, D_Y_TICKS, D_Y_MINOR, ylab(MY, 20, 5, D_Y_TICKS), true, true);
  D_SPECTRA.forEach((arr, k) => series.push(lineS(SPEC_LABELS[k], xD, yD, zip(WL, arr), SPEC_COLORS[k], 1.3)));

  // ---- kinetics panels (b) & (e)
  const kinPanel = (top: number, height: number, rightW: number, yMin: number, yMax: number, yT: number[], yM: number[],
    logMax: number, linMargin: number, logMargin: number, lin: number[][], log: number[][], fitl: number[][], fit: number[][]) => {
    const gl = addGrid(434, top, 29, height);
    const gr = addGrid(463, top, rightW, height);
    const xl = frameX(gl, 'value', -2.8, 1.6, LIN_TICKS, LIN_MINOR,
      lab(AR, 20, linMargin, [LIN_TICKS[0]]), lab(AR, 20, linMargin, [LIN_TICKS[1]]));
    const yl = frameY(gl, yMin, yMax, yT, yM, ylab(AR, 21, 5, yT), true, false);
    const xr = frameX(gr, 'log', 1.27, logMax, LOG_MAJ, logMinors(1.27, logMax), logLab(logMargin));
    const yr = frameY(gr, yMin, yMax, yT, yM, null, false, true);
    KIN_LABELS.forEach((nm, k) => {
      const ex = k === 0 ? { markLine: zeroLine } : {};
      series.push(scatS(nm, xl, yl, zip(LIN_T, lin[k]), KIN_COLORS[k], ex));
      series.push(scatS(nm, xr, yr, zip(T_LOG, log[k]), KIN_COLORS[k], ex));
    });
    KIN_LABELS.forEach((_, k) => {
      series.push(lineS('_fit', xl, yl, zip(FITL_T, fitl[k]), '#000', 1.4, { z: 4 }));
      series.push(lineS('_fit', xr, yr, zip(FIT_T, fit[k]), '#000', 1.4, { z: 4 }));
    });
  };
  kinPanel(59, 283, 264, -5, 4.2, B_Y_TICKS, B_Y_MINOR, 3.5e8, 12, 14,
    [B583L, B625L, B769L, B792L, B931L], [B583, B625, B769, B792, B931], B_FITL, [B583F, B625F, B769F, B792F, B931F]);
  kinPanel(472, 289, 261, -6, 2.5, E_Y_TICKS, E_Y_MINOR, 2.3e8, 1, 3,
    [E583L, E625L, E769L, E792L, E931L], [E583, E625, E769, E792, E931], E_FITL, [E583F, E625F, E769F, E792F, E931F]);

  // ---- (c)
  const gCL = addGrid(826, 62, 29, 293);
  const gCR = addGrid(855, 62, 264, 293);
  const xCL = frameX(gCL, 'value', -2.2, 1.3, LIN_TICKS, LIN_MINOR,
    lab(AR, 20, 3, [LIN_TICKS[0]]), lab(AR, 20, 3, [LIN_TICKS[1]]));
  const yCL = frameY(gCL, 0, 1.1, C_Y_TICKS, C_Y_MINOR, ylab(AR, 20, 3, C_Y_TICKS, { formatter: fix1 }), true, false);
  const xCR = frameX(gCR, 'log', 1.05, 3.8e8, LOG_MAJ, logMinors(1.05, 3.8e8), logLab(1));
  const yCR = frameY(gCR, 0, 1.1, C_Y_TICKS, C_Y_MINOR, null, false, true);
  const cSm = { smooth: 0.3 };
  const cLog = [[C_A_T, C_A_V], [C_B_T, C_B_V], [C_C_T, C_C_V], [C_D_T, C_D_V], [C_E_T, C_E_V], [C_F_T, C_F_V]];
  cLog.forEach(([t, v], k) => series.push(lineS(POP_LABELS[k], xCR, yCR, zip(t, v), POP_COLORS[k], 1.6, cSm)));
  const cLin = [[C_A_LT, C_A_LV], [C_B_LT, C_B_LV], [C_C_LT, C_C_LV]];
  cLin.forEach(([t, v], k) => series.push(lineS(POP_LABELS[k], xCL, yCL, zip(t, v), POP_COLORS[k], 1.6)));

  // ---- (f)
  const gF = addGrid(826, 471, 290, 290);
  const xF = frameX(gF, 'value', -1, 50, F_X_TICKS, F_X_MINOR, lab(AR, 21, 3, F_X_TICKS));
  const yF = frameY(gF, -1.6, 0, F_Y_TICKS, F_Y_MINOR, ylab(AR, 21, 5, F_Y_TICKS, { formatter: fix1 }), true, true);
  series.push(lineS(F_LABELS[0], xF, yF, zip(F_P_T, F_P_V), '#000000', 1.5, { smooth: 0.35 }));
  series.push(lineS(F_LABELS[1], xF, yF, zip(F_D_T, F_D_V), '#ff1a1a', 1.5, { smooth: 0.35 }));

  // ---- legends
  const lg = (left: number, top: number, names: any[], font: string, size: number, lh: number, gap: number, iw: number, ih: number, lineOnly: boolean) => {
    const l: any = {
      orient: 'vertical', left, top, padding: 0, itemGap: gap, itemWidth: iw, itemHeight: ih, selectedMode: false,
      data: names, textStyle: { fontFamily: font, fontSize: size, color: TXT, lineHeight: lh },
    };
    if (lineOnly) {
      l.itemStyle = { opacity: 0, color: 'rgba(0,0,0,0)', borderWidth: 0 };
      l.lineStyle = { width: 2 };
    }
    return l;
  };
  legend.push(lg(236.7, 63.7, SPEC_LABELS.slice(0, 5), MY, 17, 20, 1.5, 40, 14, true));
  legend.push(lg(240, 201.7, SPEC_LABELS.slice(5), MY, 17, 20, 2.25, 40, 14, true));
  legend.push(lg(241, 482, SPEC_LABELS.slice(0, 3), MY, 17, 20, 1.7, 39, 14, true));
  legend.push(lg(241, 590.7, SPEC_LABELS.slice(3), MY, 17, 20, 2.6, 39, 14, true));
  const kinItems = KIN_LABELS.map((n, k) => ({ name: n, itemStyle: { color: 'rgba(0,0,0,0)', borderColor: KIN_COLORS[k], borderWidth: 1.3 } }));
  legend.push(lg(611.7, 234.8, kinItems, AR, 18, 20, 1.85, 40, 9, false));
  legend.push(lg(603.3, 644.8, kinItems, AR, 18, 20, 1.85, 40, 9, false));
  legend.push(lg(1056.7, 74, POP_LABELS, AR, 15, 18, 2.06, 37, 10, true));
  legend.push(lg(911.7, 486, F_LABELS, AR, 19, 22, 2, 42, 10, true));

  // ---- texts
  const T = (x: number, y: number, text: string, font: string, size: number, o: any = {}) => ({
    type: 'text', x, y, rotation: o.rot || 0, z: 100, silent: true,
    style: { text, fontFamily: font, fontSize: size, fill: o.fill || TXT, align: o.align || 'center', verticalAlign: 'middle', rich: o.rich },
  });
  const ROT = Math.PI / 2;
  gfx.push(T(8, 25, '(a)', MY, 30, { align: 'left' }));
  gfx.push(T(373, 42, '(b)', MY, 30, { align: 'left' }));
  gfx.push(T(747, 42.5, '(c)', MY, 30, { align: 'left' }));
  gfx.push(T(10, 452.5, '(d)', MY, 30, { align: 'left' }));
  gfx.push(T(382, 453, '(e)', MY, 30, { align: 'left' }));
  gfx.push(T(745, 448, '(f)', MY, 30, { align: 'left' }));
  gfx.push(T(220.5, 44, 'Pristine blend', MY, 22));
  gfx.push(T(574, 43.5, 'Pristine blend', MY, 22));
  gfx.push(T(973, 47.7, 'Pristine blend', MY, 22));
  gfx.push(T(204.5, 453.3, 'Degraded blend', MY, 22));
  gfx.push(T(582, 452.7, 'Degraded blend', MY, 22));
  gfx.push(T(224, 387, 'Wavelength (nm)', MY, 24));
  gfx.push(T(33.3, 196, 'ΔA (mOD)', MY, 22, { rot: ROT }));
  gfx.push(T(592.5, 395, 'Delay (ps)', AR, 24));
  gfx.push(T(398.3, 197.5, 'ΔA (mOD)', AR, 24, { rot: ROT }));
  gfx.push(T(984, 395, 'Delay (ps)', AR, 22));
  gfx.push(T(780, 197.5, 'Model Population (a.u.)', AR, 25, { rot: ROT }));
  gfx.push(T(224, 804, 'Wavelength (nm)', MY, 23));
  gfx.push(T(33.3, 606.7, 'ΔA (mOD)', MY, 22, { rot: ROT }));
  gfx.push(T(591, 804, 'Delay (ps)', AR, 24));
  gfx.push(T(400, 606.7, 'ΔA (mOD)', AR, 24, { rot: ROT }));
  gfx.push(T(983.3, 805, 'Time (ps)', AR, 24));
  gfx.push(T(763.3, 615, 'Normalized ΔA at 634 nm', AR, 24.5, { rot: ROT }));

  const lamRich = {
    l: { fontFamily: AR, fontSize: 22, lineHeight: 26, fill: TXT },
    s: { fontFamily: AR, fontSize: 15, lineHeight: 15, verticalAlign: 'bottom', fill: TXT },
  };
  gfx.push(T(713, 96.7, '{l|λ}{s|ex}{l| = 800 nm}', AR, 22, { align: 'right', rich: lamRich }));
  gfx.push(T(711.7, 509, '{l|λ}{s|ex}{l| = 800 nm}', AR, 22, { align: 'right', rich: lamRich }));

  const tauRich = (c: string) => ({
    a: { fontFamily: AR, fontSize: 19, lineHeight: 24, fill: c },
    s: { fontFamily: AR, fontSize: 13, lineHeight: 13, verticalAlign: 'bottom', fill: c },
  });
  gfx.push(T(900, 585, '{a|Recovery (τ}{s|2}{a|)}', AR, 19, { align: 'left', rich: tauRich('#ee1c1c') }));
  gfx.push(T(906.7, 671.7, '{a|Deepening (τ}{s|2}{a|)}', AR, 19, { align: 'left', rich: tauRich(TXT) }));

  const arrow = (x1: number, y1: number, x2: number, y2: number, c: string) => {
    const L = Math.hypot(x2 - x1, y2 - y1);
    const ux = (x2 - x1) / L, uy = (y2 - y1) / L;
    const bx = x2 - ux * 9, by = y2 - uy * 9;
    const px = -uy, py = ux;
    gfx.push({ type: 'line', z: 100, silent: true, shape: { x1, y1, x2: bx, y2: by }, style: { stroke: c, lineWidth: 1.1 } });
    gfx.push({ type: 'polygon', z: 100, silent: true, shape: { points: [[x2, y2], [bx + px * 3.5, by + py * 3.5], [bx - px * 3.5, by - py * 3.5]] }, style: { fill: c } });
  };
  arrow(895, 591.7, 846.7, 626.7, '#ee1c1c');
  arrow(903.3, 667.3, 855, 667.3, '#222');

  const brk = (x: number, y: number) => {
    gfx.push({ type: 'rect', z: 99, silent: true, shape: { x: x - 4, y: y - 2, width: 8, height: 4 }, style: { fill: '#fff' } });
    gfx.push({ type: 'line', z: 100, silent: true, shape: { x1: x - 6, y1: y + 5, x2: x - 1, y2: y - 5 }, style: { stroke: AX, lineWidth: 1 } });
    gfx.push({ type: 'line', z: 100, silent: true, shape: { x1: x - 1, y1: y + 5, x2: x + 4, y2: y - 5 }, style: { stroke: AX, lineWidth: 1 } });
  };
  brk(463, 59); brk(463, 342);
  brk(855, 62); brk(855, 355);
  brk(463, 472); brk(463, 761);

  return {
    animation: false,
    backgroundColor: '#ffffff',
    textStyle: { fontFamily: AR },
    grid, xAxis, yAxis, series, legend,
    graphic: { elements: gfx },
  };
}

export default function App() {
  const ref = useRef<HTMLDivElement>(null);
  useEffect(() => {
    document.body.style.margin = '0';
    const chart = echarts.init(ref.current as HTMLDivElement, null, { renderer: 'svg', width: 1129, height: 820 });
    chart.setOption(buildOption() as any);
    return () => chart.dispose();
  }, []);
  return <div ref={ref} style={{ width: 1129, height: 820, background: '#fff' }} />;
}
